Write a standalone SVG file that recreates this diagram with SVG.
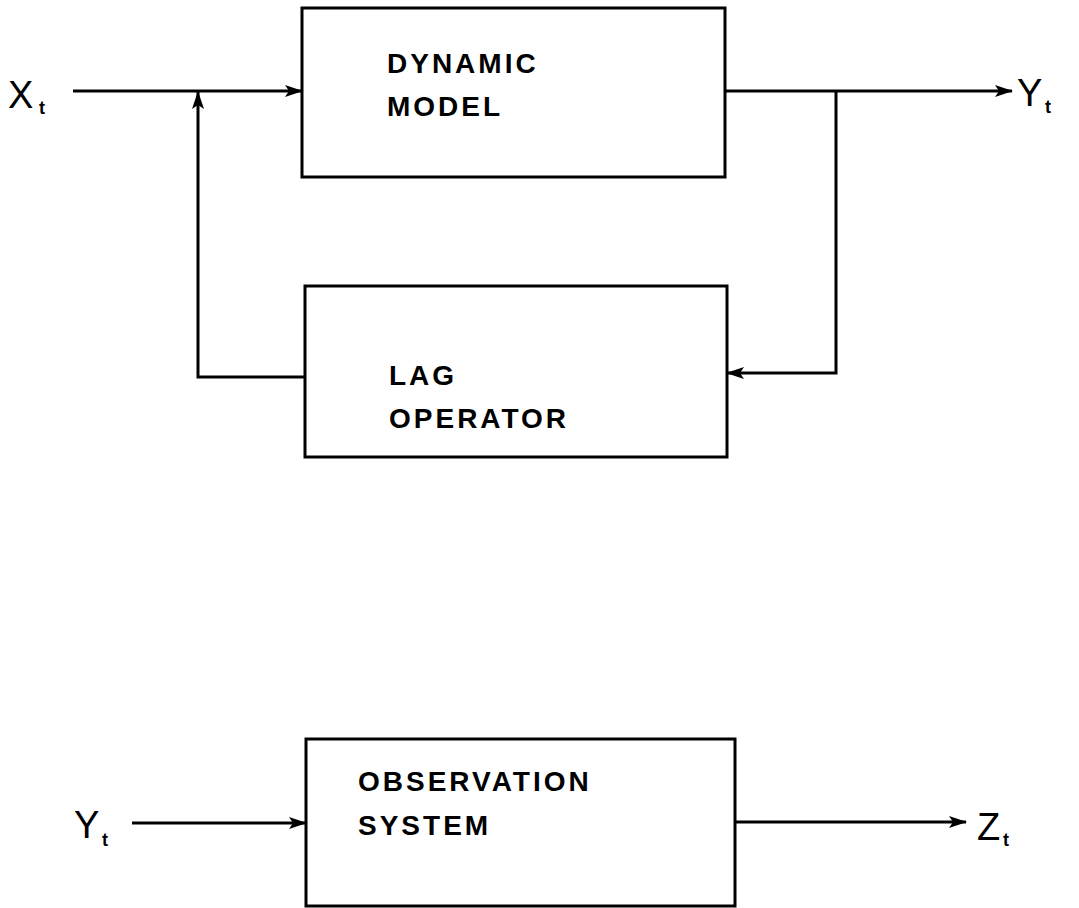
<svg xmlns="http://www.w3.org/2000/svg" width="1079" height="908" viewBox="0 0 1079 908">
<style>
.box{fill:#fff;stroke:#000;stroke-width:3}
.ln{fill:none;stroke:#000;stroke-width:3}
.lbl{font-family:"Liberation Sans",Arial,sans-serif;font-weight:bold;font-size:28px;letter-spacing:3px;fill:#000}
.var{font-family:"Liberation Sans",Arial,sans-serif;font-size:38px;fill:#000}
.sub{font-family:"Liberation Sans",Arial,sans-serif;font-size:18px;font-weight:bold;fill:#000}
</style>
<defs>
<marker id="ah" viewBox="0 0 18 12" refX="17" refY="6" markerWidth="18" markerHeight="12" markerUnits="userSpaceOnUse" orient="auto">
<path d="M0,0 L18,6 L0,12 L4,6 Z" fill="#000"/>
</marker>
</defs>
<rect width="1079" height="908" fill="#fff"/>
<g id="connectors">
<line class="ln" x1="73" y1="91" x2="302" y2="91" marker-end="url(#ah)"/>
<line class="ln" x1="725" y1="91" x2="1012" y2="91" marker-end="url(#ah)"/>
<polyline class="ln" points="836,91 836,373 727,373" marker-end="url(#ah)"/>
<polyline class="ln" points="305,377 198,377 198,92" marker-end="url(#ah)"/>
<line class="ln" x1="132" y1="823" x2="306" y2="823" marker-end="url(#ah)"/>
<line class="ln" x1="735" y1="822" x2="966" y2="822" marker-end="url(#ah)"/>
</g>
<g id="dynamic-model">
<rect class="box" x="302" y="8" width="423" height="169"/>
<text class="lbl" x="387" y="73">DYNAMIC</text>
<text class="lbl" x="387" y="116">MODEL</text>
</g>
<g id="lag-operator">
<rect class="box" x="305" y="286" width="422" height="171"/>
<text class="lbl" x="389" y="385">LAG</text>
<text class="lbl" x="389" y="428">OPERATOR</text>
</g>
<g id="observation-system">
<rect class="box" x="306" y="739" width="429" height="167"/>
<text class="lbl" x="358" y="791">OBSERVATION</text>
<text class="lbl" x="358" y="835">SYSTEM</text>
</g>
<g id="labels">
<text class="var" x="8" y="108">X</text><text class="sub" x="39" y="114">t</text>
<text class="var" x="1017" y="106">Y</text><text class="sub" x="1045" y="113">t</text>
<text class="var" x="74" y="838">Y</text><text class="sub" x="102" y="846">t</text>
<text class="var" x="977" y="840">Z</text><text class="sub" x="1003" y="846">t</text>
</g>
</svg>
